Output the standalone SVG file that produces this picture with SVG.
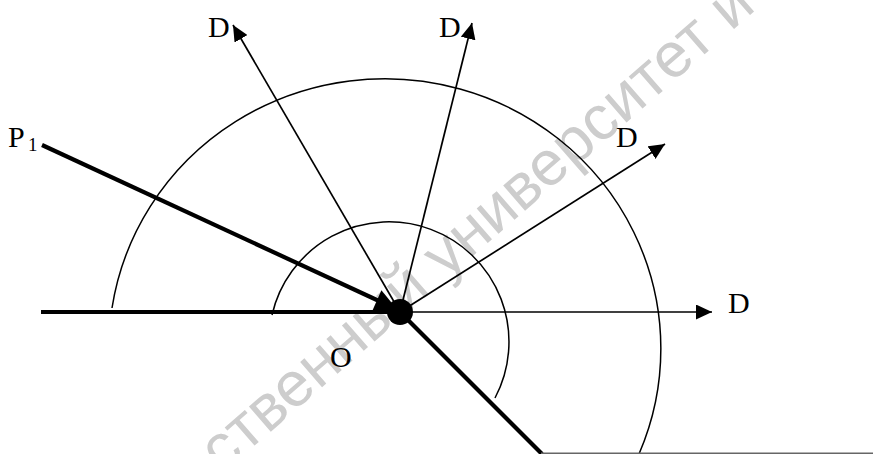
<svg xmlns="http://www.w3.org/2000/svg" width="873" height="454" viewBox="0 0 873 454">
  <style>
    .lbl { font-family: "Liberation Serif", "Times New Roman", serif; font-size: 30px; fill: #000; }
    .sub { font-family: "Liberation Serif", "Times New Roman", serif; font-size: 19px; fill: #000; }
    .thin { stroke: #000; stroke-width: 1.7; fill: none; }
    .thick { stroke: #000; stroke-width: 4.2; fill: none; }
    .arc { stroke: #000; stroke-width: 1.5; fill: none; }
    .wm { font-family: "Liberation Sans", Arial, sans-serif; font-size: 63px; fill: #cdcdcd; }
  </style>
  <defs>
    <marker id="arr" markerUnits="userSpaceOnUse" markerWidth="16" markerHeight="15" refX="16" refY="7.5" orient="auto">
      <path d="M0,0 L16,7.5 L0,15 z" fill="#000"/>
    </marker>
  </defs>
  <rect width="873" height="454" fill="#fff"/>

  <g id="watermark">
    <text class="wm" x="0" y="0" transform="translate(222,474) rotate(-41)">ственный университет и</text>
  </g>

  <g id="arcs">
    <path class="arc" d="M112,308 A276,270 0 1,1 639,454"/>
    <path class="arc" d="M272,315 A120,120 0 1,1 495,398"/>
  </g>

  <g id="connectors">
    <line class="thick" x1="41" y1="312" x2="400" y2="312"/>
    <line class="thick" x1="42" y1="145" x2="392" y2="307"/>
    <polygon points="398,310.5 372.6,310.2 381.4,290.2" fill="#000"/>
    <line class="thick" x1="400" y1="312" x2="542" y2="454"/>
    <line class="thin" x1="400" y1="312" x2="233" y2="25" marker-end="url(#arr)"/>
    <line class="thin" x1="400" y1="312" x2="472" y2="23" marker-end="url(#arr)"/>
    <line class="thin" x1="400" y1="312" x2="665" y2="144" marker-end="url(#arr)"/>
    <line class="thin" x1="400" y1="312" x2="712" y2="312" marker-end="url(#arr)"/>
    <line x1="541" y1="453.2" x2="873" y2="453.2" stroke="#666" stroke-width="1.5"/>
  </g>

  <g id="node-O">
    <circle cx="400" cy="312" r="13" fill="#000"/>
    <text class="lbl" x="330" y="367">O</text>
  </g>
  <g id="node-P1">
    <text class="lbl" x="8" y="147">P</text>
    <text class="sub" x="28" y="151">1</text>
  </g>
  <g id="node-D1"><text class="lbl" x="208" y="37">D</text></g>
  <g id="node-D2"><text class="lbl" x="439" y="37">D</text></g>
  <g id="node-D3"><text class="lbl" x="616" y="147">D</text></g>
  <g id="node-D4"><text class="lbl" x="728" y="313">D</text></g>
</svg>
